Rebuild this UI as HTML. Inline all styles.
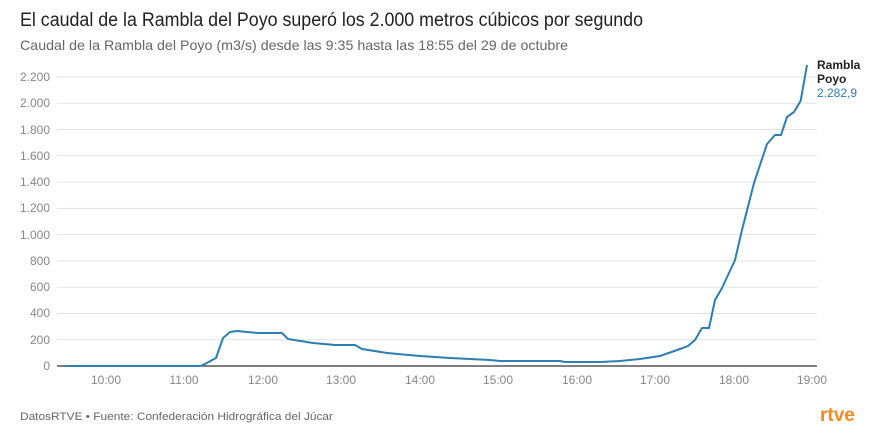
<!DOCTYPE html><html><head><style>body{margin:0;background:#fff;font-family:"Liberation Sans",sans-serif}</style></head><body>
<svg width="876" height="431" xmlns="http://www.w3.org/2000/svg" font-family="Liberation Sans, sans-serif">
<text x="20" y="26" font-size="19" fill="#222" textLength="623" lengthAdjust="spacingAndGlyphs">El caudal de la Rambla del Poyo superó los 2.000 metros cúbicos por segundo</text>
<text x="20" y="50" font-size="14" fill="#666" textLength="548" lengthAdjust="spacingAndGlyphs">Caudal de la Rambla del Poyo (m3/s) desde las 9:35 hasta las 18:55 del 29 de octubre</text>
<g stroke="#e3e3e3" stroke-width="1">
<line x1="57" x2="817" y1="77" y2="77"/><line x1="57" x2="817" y1="103.3" y2="103.3"/><line x1="57" x2="817" y1="129.5" y2="129.5"/><line x1="57" x2="817" y1="155.8" y2="155.8"/><line x1="57" x2="817" y1="182.1" y2="182.1"/><line x1="57" x2="817" y1="208.4" y2="208.4"/><line x1="57" x2="817" y1="234.6" y2="234.6"/><line x1="57" x2="817" y1="260.9" y2="260.9"/><line x1="57" x2="817" y1="287.2" y2="287.2"/><line x1="57" x2="817" y1="313.5" y2="313.5"/><line x1="57" x2="817" y1="339.7" y2="339.7"/>
</g>
<line x1="57" x2="817" y1="366" y2="366" stroke="#333" stroke-width="1.2"/>
<g font-size="12" fill="#888" text-anchor="end">
<text x="50" y="81">2.200</text><text x="50" y="107">2.000</text><text x="50" y="134">1.800</text><text x="50" y="160">1.600</text><text x="50" y="186">1.400</text><text x="50" y="212">1.200</text><text x="50" y="239">1.000</text><text x="50" y="265">800</text><text x="50" y="291">600</text><text x="50" y="317">400</text><text x="50" y="344">200</text><text x="50" y="370">0</text>
</g>
<g font-size="12" fill="#888" text-anchor="middle">
<text x="106" y="384">10:00</text><text x="184" y="384">11:00</text><text x="263" y="384">12:00</text><text x="341" y="384">13:00</text><text x="420" y="384">14:00</text><text x="498" y="384">15:00</text><text x="577" y="384">16:00</text><text x="655" y="384">17:00</text><text x="734" y="384">18:00</text><text x="812" y="384">19:00</text>
</g>
<polyline fill="none" stroke="#2b7fb5" stroke-width="2" stroke-linejoin="round" points="65,366 200,366 203,365 216,358 223,338 230,332 237,331 258,333 282,333 288,339 313,343 335,345 355,345 362,349 387,353 420,356 450,358 470,359 490,360 500,361 560,361 565,362 600,362 620,361 640,359 660,356 680,349 688,346 695,340 702,328 709,328 715,300 722,288 735,260 742,230 754,183 767,144 775,135 781,135 787,117 794,112 800.7,100.7 807,65"/>
<text x="817" y="69" font-size="12" font-weight="bold" fill="#222">Rambla</text>
<text x="817" y="83" font-size="12" font-weight="bold" fill="#222">Poyo</text>
<text x="817" y="97" font-size="12" fill="#2b7fb5">2.282,9</text>
<text x="20" y="420" font-size="11" fill="#666" textLength="313" lengthAdjust="spacingAndGlyphs">DatosRTVE • Fuente: Confederación Hidrográfica del Júcar</text>
<text x="820" y="421" font-size="19" font-weight="bold" fill="#f08a24">rtve</text>
</svg></body></html>
